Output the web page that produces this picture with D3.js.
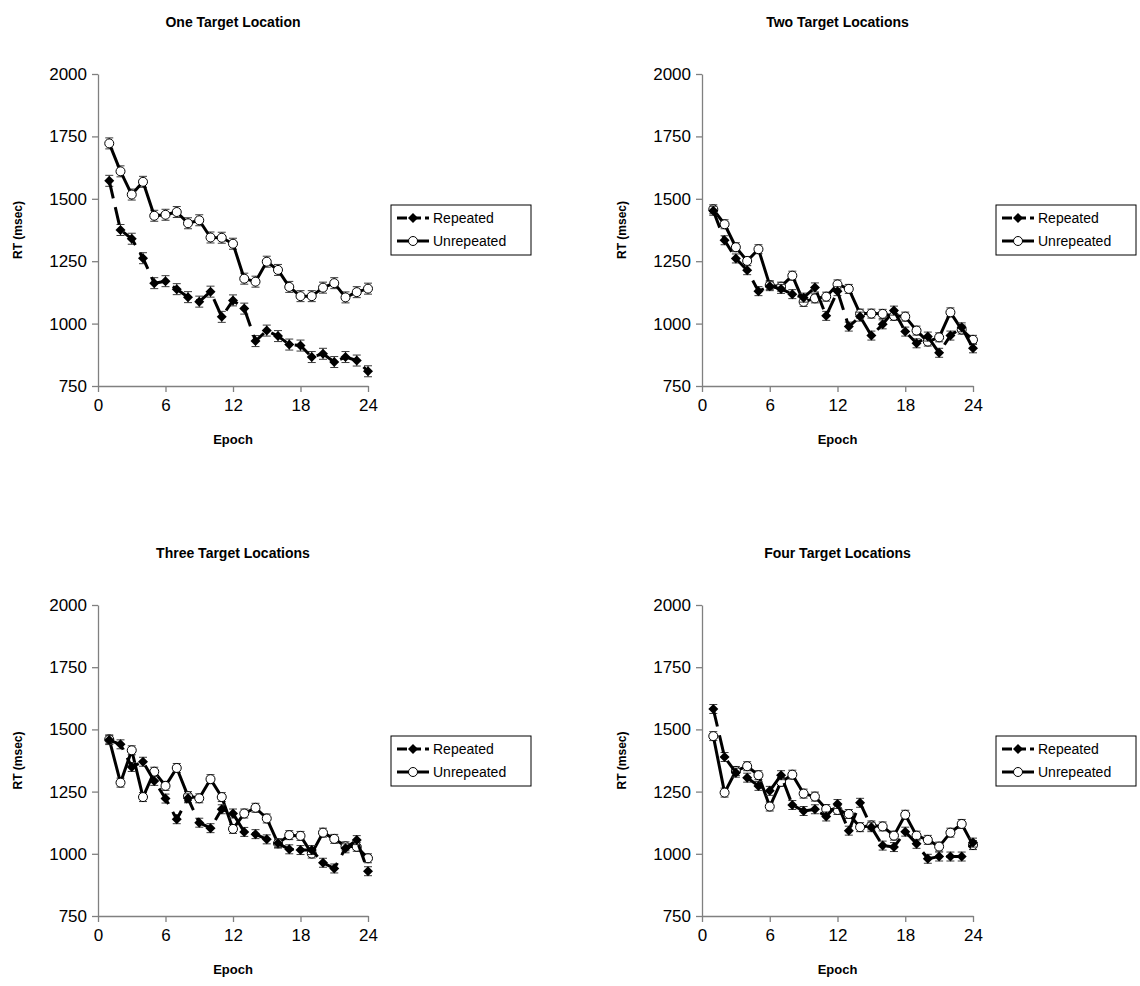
<!DOCTYPE html>
<html>
<head>
<meta charset="utf-8">
<script src="https://cdn.jsdelivr.net/npm/d3@7"></script>
<style>
  html, body { margin: 0; padding: 0; background: #fff; }
  svg { display: block; font-family: "Liberation Sans", Arial, Helvetica, sans-serif; }
</style>
</head>
<body>
<svg id="chart" width="1140" height="986"></svg>
<script>
// Epochs 1..24
const epochs = d3.range(1, 25);

const panelTitles = ["One Target Location", "Two Target Locations", "Three Target Locations", "Four Target Locations"];
const seriesNames = ["Repeated", "Unrepeated"];
const yTicks = [750, 1000, 1250, 1500, 1750, 2000];
const xTicks = [0, 6, 12, 18, 24];

// Mean RT (msec) per epoch
const repeatedOne   = [1572, 1375, 1340, 1262, 1162, 1170, 1138, 1106, 1088, 1128, 1027, 1093, 1060, 930, 972, 950, 916, 912, 866, 879, 846, 866, 852, 809];
const unrepeatedOne = [1722, 1610, 1517, 1568, 1432, 1436, 1447, 1402, 1414, 1345, 1344, 1320, 1180, 1168, 1248, 1215, 1147, 1110, 1110, 1144, 1162, 1105, 1126, 1140];

const repeatedTwo   = [1452, 1334, 1261, 1214, 1130, 1150, 1139, 1118, 1104, 1145, 1031, 1130, 988, 1028, 952, 997, 1052, 968, 921, 948, 883, 952, 985, 901];
const unrepeatedTwo = [1458, 1398, 1306, 1251, 1298, 1154, 1148, 1192, 1087, 1101, 1108, 1157, 1139, 1040, 1040, 1039, 1031, 1028, 972, 928, 945, 1045, 976, 935];

const repeatedThree   = [1457, 1440, 1349, 1370, 1293, 1222, 1139, 1223, 1125, 1103, 1179, 1162, 1088, 1079, 1058, 1042, 1018, 1015, 1015, 964, 941, 1022, 1055, 930];
const unrepeatedThree = [1460, 1286, 1416, 1228, 1330, 1273, 1345, 1232, 1223, 1300, 1228, 1100, 1162, 1185, 1142, 1042, 1075, 1072, 1001, 1085, 1060, 1030, 1028, 982];

const repeatedFour   = [1582, 1389, 1326, 1306, 1273, 1253, 1316, 1196, 1172, 1179, 1150, 1200, 1093, 1205, 1107, 1033, 1027, 1089, 1040, 980, 989, 989, 989, 1045];
const unrepeatedFour = [1473, 1246, 1333, 1352, 1316, 1190, 1289, 1318, 1242, 1230, 1180, 1176, 1160, 1107, 1114, 1110, 1073, 1157, 1073, 1056, 1029, 1085, 1120, 1035];

// Standard error per panel (msec)
const stdErrors = [22, 18, 18, 18];

const panelData = [
  [repeatedOne, unrepeatedOne],
  [repeatedTwo, unrepeatedTwo],
  [repeatedThree, unrepeatedThree],
  [repeatedFour, unrepeatedFour]
];

// Panel geometry
const layout = [
  { x0: 98,  x1: 368, yTop: 74,  yBot: 386 },
  { x0: 702, x1: 973, yTop: 74,  yBot: 386 },
  { x0: 98,  x1: 368, yTop: 605, yBot: 916 },
  { x0: 702, x1: 973, yTop: 605, yBot: 916 }
];

const svg = d3.select("#chart");
const axisColor = "#808080";

function diamondPath(r) {
  return `M0,${-r}L${r},0L0,${r}L${-r},0Z`;
}

layout.forEach((L, i) => {
  const g = svg.append("g");
  const x = d3.scaleLinear().domain([0, 24]).range([L.x0, L.x1]);
  const y = d3.scaleLinear().domain([750, 2000]).range([L.yBot, L.yTop]);
  const midX = (L.x0 + L.x1) / 2;
  const midY = (L.yTop + L.yBot) / 2;

  // Title
  g.append("text")
    .attr("x", midX).attr("y", L.yTop - 47)
    .attr("text-anchor", "middle")
    .attr("font-size", 14).attr("font-weight", "bold")
    .text(panelTitles[i]);

  // Axes
  const yAxis = g.append("g")
    .attr("transform", `translate(${L.x0},0)`)
    .call(d3.axisLeft(y).tickValues(yTicks).tickSize(6).tickSizeOuter(0).tickPadding(5).tickFormat(d3.format("d")));
  const xAxis = g.append("g")
    .attr("transform", `translate(0,${L.yBot})`)
    .call(d3.axisBottom(x).tickValues(xTicks).tickSize(6).tickSizeOuter(0).tickPadding(7).tickFormat(d3.format("d")));
  [yAxis, xAxis].forEach(a => {
    a.select(".domain").attr("stroke", axisColor).attr("stroke-width", 1.3);
    a.selectAll(".tick line").attr("stroke", axisColor).attr("stroke-width", 1.3);
    a.selectAll(".tick text").attr("fill", "#000").attr("font-size", 17)
      .attr("font-family", "'Liberation Sans', Arial, sans-serif");
  });

  // Axis titles
  g.append("text")
    .attr("transform", `translate(${L.x0 - 76},${midY}) rotate(-90)`)
    .attr("text-anchor", "middle")
    .attr("font-size", 12).attr("font-weight", "bold")
    .text("RT (msec)");
  g.append("text")
    .attr("x", midX).attr("y", L.yBot + 58)
    .attr("text-anchor", "middle")
    .attr("font-size", 13).attr("font-weight", "bold")
    .text("Epoch");

  const se = stdErrors[i];
  const [rep, unrep] = panelData[i];
  const line = d3.line().x((d, k) => x(epochs[k])).y(d => y(d));

  // Draw a series: error bars, line, markers
  function drawSeries(values, kind) {
    const eb = g.append("g").attr("stroke", "#3a3a3a").attr("stroke-width", 1);
    values.forEach((v, k) => {
      const cx = x(epochs[k]);
      eb.append("line").attr("x1", cx).attr("x2", cx).attr("y1", y(v - se)).attr("y2", y(v + se));
      eb.append("line").attr("x1", cx - 4).attr("x2", cx + 4).attr("y1", y(v - se)).attr("y2", y(v - se));
      eb.append("line").attr("x1", cx - 4).attr("x2", cx + 4).attr("y1", y(v + se)).attr("y2", y(v + se));
    });
    g.append("path")
      .datum(values)
      .attr("d", line)
      .attr("fill", "none")
      .attr("stroke", "#000")
      .attr("stroke-width", 3)
      .attr("stroke-linejoin", "round")
      .attr("stroke-dasharray", kind === "rep" ? "18,9" : null);
    const m = g.append("g");
    values.forEach((v, k) => {
      const cx = x(epochs[k]), cy = y(v);
      if (kind === "rep") {
        m.append("path").attr("d", diamondPath(5)).attr("transform", `translate(${cx},${cy})`).attr("fill", "#000");
      } else {
        m.append("circle").attr("cx", cx).attr("cy", cy).attr("r", 4.5)
          .attr("fill", "#fff").attr("stroke", "#000").attr("stroke-width", 1);
      }
    });
  }
  drawSeries(unrep, "unrep");
  drawSeries(rep, "rep");

  // Legend
  const lx = L.x1 + 23, ly = L.yTop + 131;
  const lg = g.append("g");
  lg.append("rect").attr("x", lx).attr("y", ly).attr("width", 140).attr("height", 50)
    .attr("fill", "#fff").attr("stroke", "#000").attr("stroke-width", 1);
  seriesNames.forEach((name, k) => {
    const ry = ly + 13 + k * 23;
    lg.append("line").attr("x1", lx + 6).attr("x2", lx + 38).attr("y1", ry).attr("y2", ry)
      .attr("stroke", "#000").attr("stroke-width", 3)
      .attr("stroke-dasharray", k === 0 ? "10,4" : null);
    if (k === 0) {
      lg.append("path").attr("d", diamondPath(5)).attr("transform", `translate(${lx + 22},${ry})`).attr("fill", "#000");
    } else {
      lg.append("circle").attr("cx", lx + 22).attr("cy", ry).attr("r", 4.5)
        .attr("fill", "#fff").attr("stroke", "#000").attr("stroke-width", 1);
    }
    lg.append("text").attr("x", lx + 42).attr("y", ry + 5)
      .attr("font-size", 14).text(name);
  });
});
</script>
</body>
</html>
